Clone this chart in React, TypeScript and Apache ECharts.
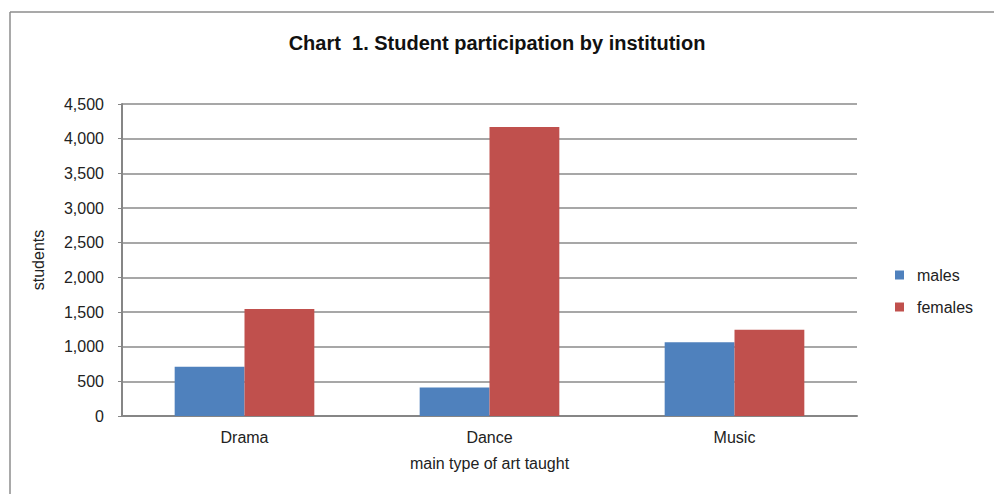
import React, { useEffect, useRef } from "react";
import * as echarts from "echarts";

const categories = ["Drama", "Dance", "Music"];
const males = [710, 410, 1065];
const females = [1545, 4170, 1245];
const seriesNames = ["males", "females"];
const yTicks = { min: 0, max: 4500, interval: 500 };

export default function App() {
  const ref = useRef<HTMLDivElement>(null);
  useEffect(() => {
    if (!ref.current) return;
    const chart = echarts.init(ref.current, null, { renderer: "svg" });
    const font = "'Liberation Sans', Arial, sans-serif";
    chart.setOption({
      animation: false,
      backgroundColor: "#ffffff",
      textStyle: { fontFamily: font },
      title: {
        text: "Chart  1. Student participation by institution",
        left: "center",
        top: 28,
        textStyle: { fontFamily: font, fontSize: 20, fontWeight: "bold", color: "#111" },
      },
      grid: { left: 122, right: 137, top: 104, bottom: 78 },
      legend: {
        orient: "vertical",
        left: 890,
        top: 262,
        itemWidth: 9,
        itemHeight: 9,
        itemGap: 16,
        icon: "rect",
        data: seriesNames,
        textStyle: { fontFamily: font, fontSize: 16, color: "#222", padding: [0, 0, 0, 8] },
      },
      xAxis: {
        type: "category",
        data: categories,
        name: "main type of art taught",
        nameLocation: "middle",
        nameGap: 39,
        nameTextStyle: { fontFamily: font, fontSize: 16, color: "#222" },
        axisLine: { lineStyle: { color: "#868686", width: 2 } },
        axisTick: { show: false },
        axisLabel: { fontFamily: font, fontSize: 16, color: "#222", margin: 13 },
      },
      yAxis: {
        type: "value",
        min: yTicks.min,
        max: yTicks.max,
        interval: yTicks.interval,
        name: "students",
        nameLocation: "middle",
        nameGap: 76,
        nameTextStyle: { fontFamily: font, fontSize: 16, color: "#222" },
        axisLine: { show: true, lineStyle: { color: "#868686", width: 2 } },
        axisTick: { show: true, length: 4, lineStyle: { color: "#868686" } },
        splitLine: { lineStyle: { color: "#8a8a8a", width: 1.5 } },
        axisLabel: {
          fontFamily: font,
          fontSize: 16,
          color: "#222",
          margin: 18,
          formatter: (v: number) => v.toLocaleString("en-US"),
        },
      },
      series: [
        {
          name: seriesNames[0],
          type: "bar",
          data: males,
          barGap: "0%",
          barCategoryGap: "43%",
          itemStyle: { color: "#4F81BD" },
        },
        {
          name: seriesNames[1],
          type: "bar",
          data: females,
          barGap: "0%",
          barCategoryGap: "43%",
          itemStyle: { color: "#C0504D" },
        },
      ],
      graphic: [
        {
          type: "line",
          shape: { x1: 10, y1: 12, x2: 994, y2: 12 },
          style: { stroke: "#8c8c8c", lineWidth: 1.5 },
        },
        {
          type: "line",
          shape: { x1: 10, y1: 12, x2: 10, y2: 494 },
          style: { stroke: "#8c8c8c", lineWidth: 1.5 },
        },
      ],
    });
    return () => chart.dispose();
  }, []);
  return (
    <div
      ref={ref}
      style={{ position: "absolute", left: 0, top: 0, width: 994, height: 494 }}
    />
  );
}
